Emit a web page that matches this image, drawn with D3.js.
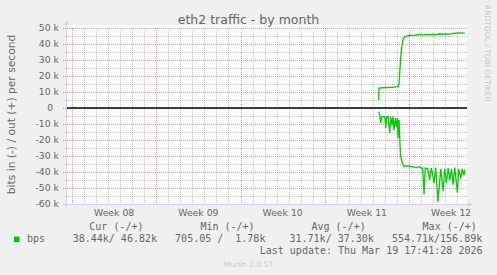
<!DOCTYPE html>
<html>
<head>
<meta charset="utf-8">
<script src="https://cdn.jsdelivr.net/npm/d3@7"></script>
<style>
  body { margin: 0; background: #f0f0f0; }
  svg text { font-family: "DejaVu Sans", sans-serif; fill: #666; }
  svg text.mono { font-family: "DejaVu Sans Mono", monospace; font-size: 10px; white-space: pre; }
</style>
</head>
<body>
<script>

var title = "eth2 traffic - by month";
var yTitle = "bits in (-) / out (+) per second";

var yTicks = [50, 40, 30, 20, 10, 0, -10, -20, -30, -40, -50, -60];
var yTickLabels = ["50 k", "40 k", "30 k", "20 k", "10 k", "0  ", "-10 k", "-20 k", "-30 k", "-40 k", "-50 k", "-60 k"];

// mondays shown, and the label for the week that starts there
var weekStarts = ["2026-02-16", "2026-02-23", "2026-03-02", "2026-03-09", "2026-03-16"];
var weekLabels = ["Week 08", "Week 09", "Week 10", "Week 11", "Week 12"];

// days after Mon 2026-03-09, values in k bits/s
var outDay = [4.49, 4.50, 5.07, 5.57, 6.09, 6.17, 6.23, 6.30, 6.37, 6.48, 6.60, 6.81, 7.06, 7.31, 7.56, 7.89, 8.14, 8.39, 8.72, 8.97, 9.22, 9.55, 9.80, 10.05, 10.39, 10.63, 10.88, 11.22, 11.63];
var outK   = [5, 12.5, 12.8, 12.9, 13.3, 15, 22, 30, 36.3, 42, 44.2, 45, 45.5, 45.3, 45.6, 46, 45.6, 46, 45.7, 46.1, 45.8, 46.4, 46.1, 46.3, 46.2, 46.6, 46.8, 46.9, 46.82];

var inDay = [4.49, 4.57, 4.65, 4.74, 4.99, 5.07, 5.15, 5.26, 5.40, 5.48, 5.59, 5.67, 5.76, 5.87, 5.96, 6.04, 6.09, 6.17, 6.29, 6.42, 6.59, 6.79, 7.20, 7.62, 7.89, 8.03, 8.14, 8.25, 8.35, 8.56, 8.72, 8.85, 8.93, 9.08, 9.22, 9.41, 9.64, 9.83, 9.97, 10.11, 10.25, 10.39, 10.53, 10.66, 10.80, 11.02, 11.13, 11.30, 11.42, 11.57, 11.63];
var inK   = [2.3, 4.4, 9.4, 5.4, 5.4, 12.5, 5.4, 5.4, 15.6, 5.4, 10.6, 5.4, 13.8, 6.3, 11.7, 6.3, 18.8, 7.5, 29.4, 33.5, 36.7, 36.1, 36.7, 37.3, 36.7, 37.7, 37.5, 54, 37.5, 37.8, 45, 37.5, 40, 47, 37.3, 58.5, 38, 52, 38, 47, 37.5, 45, 38, 48, 37.3, 53, 38, 44, 38, 42, 38.44];

var legendName = "bps";
var legendHeads = ["Cur (-/+)", "Min (-/+)", "Avg (-/+)", "Max (-/+)"];
var legendVals = [" 38.44k/ 46.82k", "705.05 /  1.78k", " 31.71k/ 37.30k", "554.71k/156.89k"];
var lastUpdate = "Last update: Thu Mar 19 17:41:28 2026";
var version = "Munin 2.0.57";
var watermark = "RRDTOOL / TOBI OETIKER";

function main() {
  var W = 497, H = 275;
  var left = 66, right = 467, top = 28, bottom = 204;
  var green = "#00cc00";
  var axisCol = "#cfd6f8";
  var minorCol = "rgba(140,140,140,0.45)";
  var majorCol = "rgba(150,30,30,0.42)";

  var svg = d3.select("body").append("svg")
    .attr("width", W).attr("height", H);

  svg.append("rect").attr("width", W).attr("height", H).attr("fill", "#f0f0f0");

  var x = d3.scaleUtc()
    .domain([new Date(Date.UTC(2026, 1, 15, 12)), new Date(Date.UTC(2026, 2, 20, 19, 40))])
    .range([left, right]);
  var y = d3.scaleLinear().domain([-60, 50]).range([bottom, top]);

  var base = Date.UTC(2026, 2, 9);
  var toDate = function (d) { return new Date(base + d * 86400000); };

  // canvas
  svg.append("rect").attr("x", left).attr("y", top - 3)
    .attr("width", right - left).attr("height", bottom - top + 3)
    .attr("fill", "#fff");

  var grid = svg.append("g").attr("shape-rendering", "crispEdges");

  // horizontal minor (5k) and major (10k)
  var minorY = d3.range(-55, 50, 10);
  grid.selectAll(".hmin").data(minorY).enter().append("line")
    .attr("x1", left - 2).attr("x2", right)
    .attr("y1", function (d) { return Math.round(y(d)) + 0.5; })
    .attr("y2", function (d) { return Math.round(y(d)) + 0.5; })
    .attr("stroke", minorCol).attr("stroke-dasharray", "1,1");
  grid.selectAll(".hmaj").data(yTicks).enter().append("line")
    .attr("x1", left - 3).attr("x2", right)
    .attr("y1", function (d) { return Math.round(y(d)) + 0.5; })
    .attr("y2", function (d) { return Math.round(y(d)) + 0.5; })
    .attr("stroke", majorCol).attr("stroke-dasharray", "1,1");

  // vertical: days, mondays in red
  var days = d3.utcDay.range(x.domain()[0], x.domain()[1]);
  grid.selectAll(".vmin").data(days).enter().append("line")
    .attr("x1", function (d) { return Math.round(x(d)) + 0.5; })
    .attr("x2", function (d) { return Math.round(x(d)) + 0.5; })
    .attr("y1", top).attr("y2", bottom + 2)
    .attr("stroke", function (d) { return d.getUTCDay() === 1 ? majorCol : minorCol; })
    .attr("stroke-dasharray", "1,1");

  // zero line
  svg.append("line").attr("x1", left).attr("x2", right)
    .attr("y1", y(0)).attr("y2", y(0))
    .attr("stroke", "#000").attr("stroke-width", 1.6);

  // axes with arrows
  svg.append("line").attr("x1", left - 3).attr("x2", right + 2)
    .attr("y1", bottom + 0.5).attr("y2", bottom + 0.5).attr("stroke", axisCol);
  svg.append("line").attr("x1", left + 0.5).attr("x2", left + 0.5)
    .attr("y1", bottom + 3).attr("y2", top - 4).attr("stroke", axisCol);
  svg.append("path").attr("d", "M" + (right + 1) + "," + (bottom - 2) + "L" + (right + 6) + "," + (bottom + 0.5) + "L" + (right + 1) + "," + (bottom + 3) + "Z")
    .attr("fill", axisCol);
  svg.append("path").attr("d", "M" + (left - 2) + "," + (top - 3) + "L" + (left + 0.5) + "," + (top - 8) + "L" + (left + 3) + "," + (top - 3) + "Z")
    .attr("fill", axisCol);

  // series (in drawn below zero)
  var line = d3.line()
    .x(function (d) { return x(toDate(d[0])); })
    .y(function (d) { return y(d[1]); });
  var outPts = outDay.map(function (d, i) { return [d, outK[i]]; });
  var inPts = inDay.map(function (d, i) { return [d, -inK[i]]; });
  svg.append("path").attr("d", line(outPts)).attr("fill", "none")
    .attr("stroke", green).attr("stroke-width", 1.3);
  svg.append("path").attr("d", line(inPts)).attr("fill", "none")
    .attr("stroke", green).attr("stroke-width", 1.3);

  // y tick labels
  svg.selectAll(".ylab").data(yTicks).enter().append("text")
    .attr("x", left - 7).attr("y", function (d) { return y(d); })
    .attr("dy", "0.37em")
    .attr("text-anchor", "end")
    .style("font-size", "9.3px").style("white-space", "pre")
    .text(function (d, i) { return yTickLabels[i]; });

  // week labels, centred on each week
  svg.selectAll(".xlab").data(weekStarts).enter().append("text")
    .attr("x", function (d) { return x(new Date(Date.parse(d + "T00:00:00Z") + 3.5 * 86400000)); })
    .attr("y", 216)
    .attr("text-anchor", "middle")
    .style("font-size", "9.3px")
    .text(function (d, i) { return weekLabels[i]; });

  // titles
  svg.append("text").attr("x", W / 2).attr("y", 24)
    .attr("text-anchor", "middle").style("font-size", "12.5px").text(title);
  svg.append("text").attr("transform", "translate(14.5,114.5) rotate(-90)")
    .attr("text-anchor", "middle").style("font-size", "10.7px").text(yTitle);
  svg.append("text").attr("transform", "translate(485,5) rotate(90)")
    .style("font-size", "7.5px").style("fill", "#c8c8c8").text(watermark);

  // legend
  svg.append("rect").attr("x", 14).attr("y", 236.5).attr("width", 5.5).attr("height", 5.5).attr("fill", green);
  svg.append("text").attr("class", "mono").attr("x", 27).attr("y", 242).text(legendName);
  svg.selectAll(".lh").data(legendHeads).enter().append("text")
    .attr("class", "mono")
    .attr("x", function (d, i) { return 89.3 + i * 111.1; })
    .attr("y", 230).text(function (d) { return d; });
  svg.selectAll(".lv").data(legendVals).enter().append("text")
    .attr("class", "mono")
    .attr("x", function (d, i) { return 66.7 + i * 108.4; })
    .attr("y", 242).text(function (d) { return d; });
  svg.append("text").attr("class", "mono").attr("x", 482.5).attr("y", 254)
    .attr("text-anchor", "end").text(lastUpdate);
  svg.append("text").attr("x", W / 2).attr("y", 267)
    .attr("text-anchor", "middle").style("font-size", "7.5px").style("fill", "#c8c8c8").text(version);
}

main();
</script>
</body>
</html>
